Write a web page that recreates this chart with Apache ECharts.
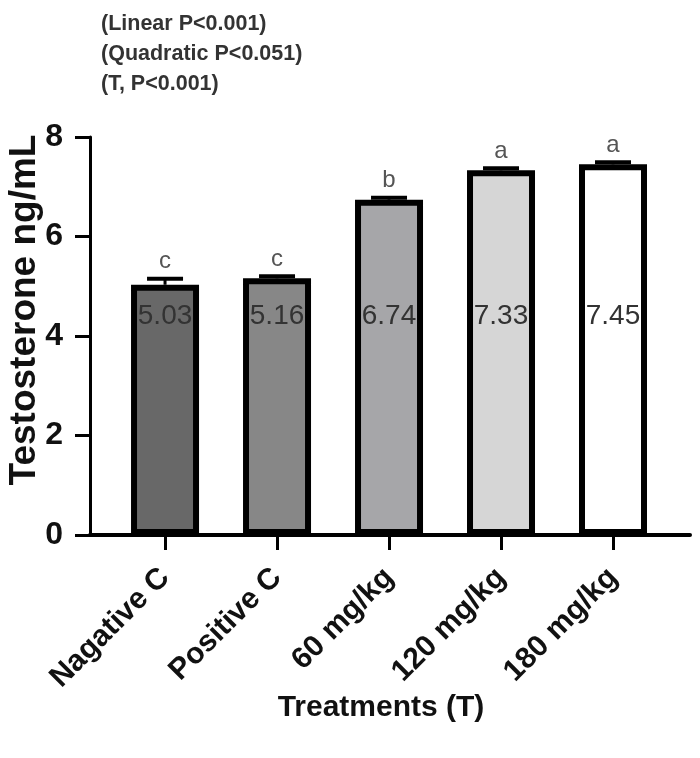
<!DOCTYPE html>
<html>
<head>
<meta charset="utf-8">
<script src="https://cdn.jsdelivr.net/npm/echarts@6/dist/echarts.min.js"></script>
<style>
  html, body { margin: 0; padding: 0; background: #fff; }
  #chart { width: 700px; height: 758px; }
</style>
</head>
<body>
<div id="chart"></div>
<script>
// data
var treatments = ['Nagative C', 'Positive C', '60 mg/kg', '120 mg/kg', '180 mg/kg']
var testosterone = [5.03, 5.16, 6.74, 7.33, 7.45]
var errUp = [0.12, 0.04, 0.04, 0.04, 0.04]
var letters = ['c', 'c', 'b', 'a', 'a']
var yTicks = [0, 2, 4, 6, 8]
var statLines = ['(Linear P<0.001)', '(Quadratic P<0.051)', '(T, P<0.001)']

// styles
var barFills = ['#686868', '#878787', '#a6a6a9', '#d6d6d6', '#ffffff']
var labelLevel = 4.4   // value labels all sit at the same height
var font = 'Liberation Sans, Arial, sans-serif'

var idx = treatments.map(function(t, i){ return i })

function drawChart(){
	var myChart = echarts.init(document.getElementById('chart'))
	var barData = testosterone.map(function(v, i){
		return { value: [i, v], itemStyle: { color: barFills[i] } }
	})
	var errData = testosterone.map(function(v, i){ return [i, v, errUp[i]] })

	var option = {
		animation: false,
		title: {
			text: statLines.join('\n'),
			left: 96,
			top: 4,
			textStyle: { fontFamily: font, fontSize: 21.5, color: '#333', fontWeight: 'bold', lineHeight: 30 }
		},
		grid: { left: 90, right: 10, top: 137, bottom: 223, containLabel: false, outerBoundsMode: 'none' },
		xAxis: {
			type: 'value',
			min: -0.67,
			max: 4.6875,
			splitLine: { show: false },
			axisLine: { show: true, onZero: false, lineStyle: { color: '#000', width: 4 } },
			axisTick: { show: true, customValues: idx, length: 15, lineStyle: { color: '#000', width: 3 } },
			axisLabel: {
				customValues: idx,
				rotate: 45,
				margin: 38,
				fontFamily: font, fontSize: 30, fontWeight: 'bold', color: '#111',
				formatter: function(v){ return treatments[Math.round(v)] }
			},
			name: 'Treatments (T)',
			nameLocation: 'middle',
			nameGap: 158,
			nameMoveOverlap: false,
			nameTextStyle: { fontFamily: font, fontSize: 30, fontWeight: 'bold', color: '#111', padding: [0, 18, 0, 0] }
		},
		yAxis: {
			type: 'value',
			min: 0,
			max: 8,
			interval: 2,
			splitLine: { show: false },
			axisLine: { show: true, onZero: false, lineStyle: { color: '#000', width: 3 } },
			axisTick: { show: true, length: 15, lineStyle: { color: '#000', width: 3 } },
			axisLabel: {
				margin: 27,
				fontFamily: font, fontSize: 32, fontWeight: 'bold', color: '#111',
				formatter: function(v){ return yTicks.indexOf(v) >= 0 ? String(v) : '' }
			},
			name: 'Testosterone ng/mL',
			nameLocation: 'middle',
			nameGap: 47,
			nameMoveOverlap: false,
			nameTextStyle: { fontFamily: font, fontSize: 37, fontWeight: 'bold', color: '#111', padding: [0, 0, 0, 52] }
		},
		series: [{
			type: 'bar',
			barWidth: 68,
			data: barData,
			itemStyle: { borderColor: '#000', borderWidth: 6 },
			z: 2
		}, {
			type: 'custom',
			data: errData,
			z: 5,
			renderItem: function(params, api){
				var i = api.value(0)
				var base = api.coord([i, api.value(1)])
				var top = api.coord([i, api.value(1) + api.value(2)])
				var lab = api.coord([i, labelLevel])
				return {
					type: 'group',
					children: [{
						type: 'line',
						shape: { x1: top[0], y1: base[1], x2: top[0], y2: top[1] },
						style: { stroke: '#000', lineWidth: 3 }
					}, {
						type: 'line',
						shape: { x1: top[0] - 18, y1: top[1], x2: top[0] + 18, y2: top[1] },
						style: { stroke: '#000', lineWidth: 4 }
					}, {
						type: 'text',
						style: {
							text: letters[params.dataIndex], x: top[0], y: top[1] - 5,
							align: 'center', verticalAlign: 'bottom',
							fill: '#555', fontSize: 24, fontFamily: font
						}
					}, {
						type: 'text',
						style: {
							text: testosterone[params.dataIndex].toFixed(2), x: lab[0], y: lab[1],
							align: 'center', verticalAlign: 'middle',
							fill: '#333', fontSize: 28, fontFamily: font
						}
					}]
				}
			}
		}]
	}
	myChart.setOption(option)
}
drawChart()
</script>
</body>
</html>
